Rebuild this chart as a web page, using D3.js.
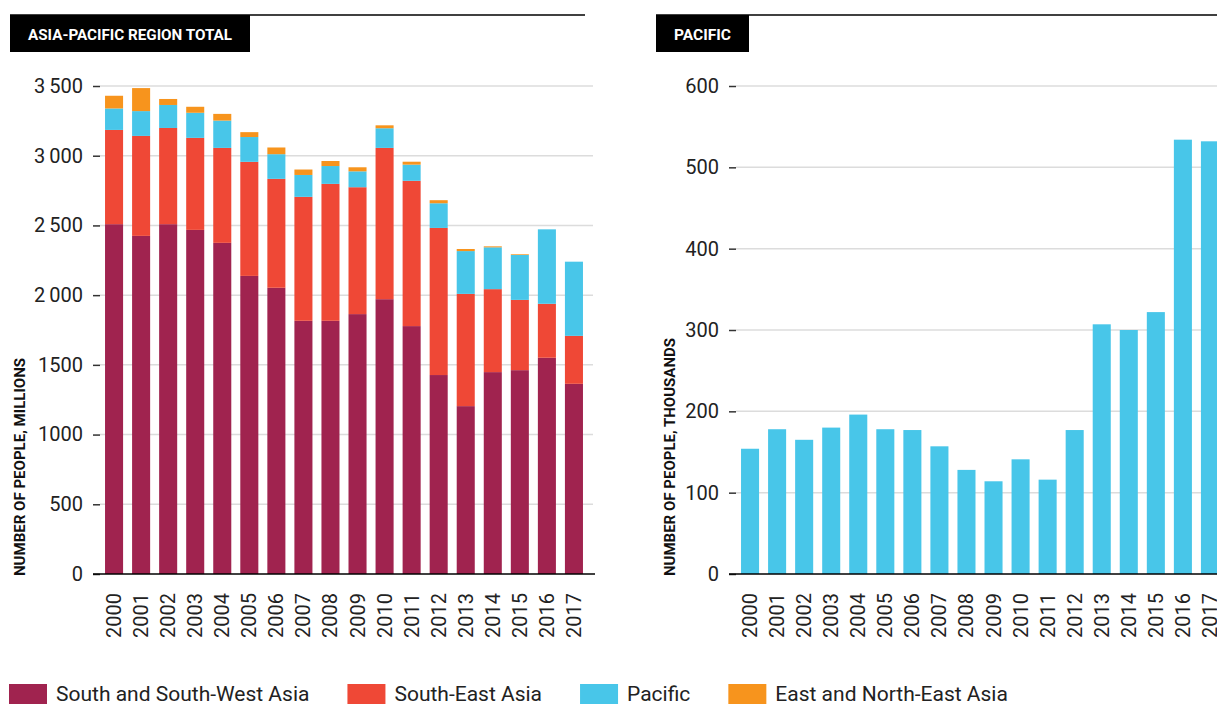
<!DOCTYPE html>
<html>
<head>
<meta charset="utf-8">
<script src="https://cdn.jsdelivr.net/npm/d3@7"></script>
<style>
  body { margin: 0; background: #fff; }
  svg { display: block; font-family: Roboto, sans-serif; }
</style>
</head>
<body>
<svg id="chart" width="1217" height="704"></svg>
<script>
var years = ['2000', '2001', '2002', '2003', '2004', '2005', '2006', '2007', '2008',
  '2009', '2010', '2011', '2012', '2013', '2014', '2015', '2016', '2017'];

// millions (left panel)
var southWest = [2509, 2425, 2509, 2468, 2375, 2138, 2053, 1816, 1816, 1864, 1971, 1778, 1427, 1204, 1448, 1462, 1551, 1364];
var southEast = [676, 717, 690, 660, 681, 818, 781, 889, 982, 910, 1085, 1042, 1055, 805, 595, 504, 387, 344];
var eastNorthEast = [91, 165, 43, 43, 48, 35, 48, 39, 36, 29, 21, 21, 22, 15, 7, 5, 0, 0];
// pacific, same figures in both panels
var pacific = [154, 178, 165, 180, 196, 178, 177, 157, 128, 114, 141, 116, 177, 307, 300, 322, 534, 532];

var seriesKeys = ['sw', 'se', 'pac', 'ene'];
var seriesNames = ['South and South-West Asia', 'South-East Asia', 'Pacific', 'East and North-East Asia'];
var colors = ['#a0234f', '#ef4836', '#48c6e9', '#f7941d'];

var leftTicks = [0, 500, 1000, 1500, 2000, 2500, 3000, 3500];
var rightTicks = [0, 100, 200, 300, 400, 500, 600];

var svg = d3.select('#chart');
var baseY = 574, topY = 86;

var rows = years.map(function(y, i) {
  return { year: y, sw: southWest[i], se: southEast[i], pac: pacific[i], ene: eastNorthEast[i] };
});
var stacked = d3.stack().keys(seriesKeys)(rows);

// panel header: rule + black tab
function header(x0, x1, tabW, label, textW) {
  svg.append('line')
    .attr('x1', x0).attr('x2', x1).attr('y1', 15).attr('y2', 15)
    .attr('stroke', '#000').attr('stroke-width', 1.5);
  svg.append('rect')
    .attr('x', x0).attr('y', 15).attr('width', tabW).attr('height', 37)
    .attr('fill', '#000');
  svg.append('text')
    .attr('x', x0 + tabW / 2).attr('y', 40)
    .attr('text-anchor', 'middle')
    .attr('fill', '#fff')
    .style('font-size', '14px').style('font-weight', 700)
    .attr('textLength', textW).attr('lengthAdjust', 'spacingAndGlyphs')
    .text(label);
}

function yAxis(y, ticks, axisX, gridX1, fmt) {
  svg.append('g')
    .selectAll('line').data(ticks.slice(1)).enter().append('line')
      .attr('x1', axisX).attr('x2', gridX1)
      .attr('y1', function(d) { return y(d); })
      .attr('y2', function(d) { return y(d); })
      .attr('stroke', '#dcdcdc').attr('stroke-width', 1.5);

  var g = svg.append('g')
    .attr('transform', 'translate(' + axisX + ',0)')
    .call(d3.axisLeft(y).tickValues(ticks).tickSize(7).tickPadding(10).tickFormat(fmt));
  g.select('.domain').remove();
  g.selectAll('.tick line').attr('stroke', '#333').attr('stroke-width', 1.5);
  g.selectAll('.tick text')
    .attr('fill', '#222')
    .style('font-size', '20px')
    .style('font-family', 'Roboto, sans-serif');
}

function xAxis(x, x0, x1) {
  var g = svg.append('g')
    .attr('transform', 'translate(0,' + baseY + ')')
    .call(d3.axisBottom(x).tickSize(0));
  g.select('.domain').remove();
  g.selectAll('.tick text')
    .attr('transform', 'rotate(-90)')
    .attr('text-anchor', 'end')
    .attr('x', -19).attr('y', 0).attr('dy', '0.35em')
    .attr('fill', '#222')
    .style('font-size', '20px')
    .style('font-family', 'Roboto, sans-serif');
  svg.append('line')
    .attr('x1', x0).attr('x2', x1).attr('y1', baseY).attr('y2', baseY)
    .attr('stroke', '#000').attr('stroke-width', 1.5);
}

function axisTitle(x, yMid, len, label) {
  svg.append('text')
    .attr('transform', 'translate(' + x + ',' + yMid + ') rotate(-90)')
    .attr('text-anchor', 'middle')
    .attr('fill', '#111')
    .style('font-size', '14px').style('font-weight', 700)
    .attr('textLength', len).attr('lengthAdjust', 'spacingAndGlyphs')
    .text(label);
}

// ---- left panel: region total, stacked
header(10, 585, 240, 'ASIA-PACIFIC REGION TOTAL', 204);

var yL = d3.scaleLinear().domain([0, 3500]).range([baseY, topY]);
var xL = d3.scaleBand().domain(years).range([98, 590]).paddingInner(0.333).paddingOuter(0.26);

yAxis(yL, leftTicks, 100, 593, function(d) {
  return d >= 2000 ? String(d).replace(/(\d)(\d{3})$/, '$1\u2009$2') : String(d);
});

svg.append('g').selectAll('g')
  .data(stacked).enter().append('g')
    .attr('fill', function(d, i) { return colors[i]; })
  .selectAll('rect')
  .data(function(d) { return d; })
  .enter().append('rect')
    .attr('x', function(d) { return xL(d.data.year); })
    .attr('width', xL.bandwidth())
    .attr('y', function(d) { return yL(d[1]); })
    .attr('height', function(d) { return yL(d[0]) - yL(d[1]); });

xAxis(xL, 93, 595);
axisTitle(24.5, 467, 218, 'NUMBER OF PEOPLE, MILLIONS');

// ---- right panel: pacific only
header(656, 1217, 93, 'PACIFIC', 57);

var yR = d3.scaleLinear().domain([0, 600]).range([baseY, topY]);
var xR = d3.scaleBand().domain(years).range([734, 1226]).paddingInner(0.333).paddingOuter(0.26);

yAxis(yR, rightTicks, 736, 1217, function(d) { return String(d); });

svg.append('g').selectAll('rect')
  .data(pacific).enter().append('rect')
    .attr('fill', colors[2])
    .attr('x', function(d, i) { return xR(years[i]); })
    .attr('width', xR.bandwidth())
    .attr('y', function(d) { return yR(d); })
    .attr('height', function(d) { return baseY - yR(d); });

xAxis(xR, 729, 1217);
axisTitle(675, 457, 238, 'NUMBER OF PEOPLE, THOUSANDS');

// ---- legend
var lx = 9;
seriesNames.forEach(function(name, i) {
  svg.append('rect')
    .attr('x', lx).attr('y', 684).attr('width', 38).attr('height', 20)
    .attr('fill', colors[i]);
  var t = svg.append('text')
    .attr('x', lx + 47).attr('y', 701)
    .attr('fill', '#222')
    .style('font-size', '21px')
    .text(name);
  lx = lx + 47 + t.node().getComputedTextLength() + 38;
});
</script>
</body>
</html>
